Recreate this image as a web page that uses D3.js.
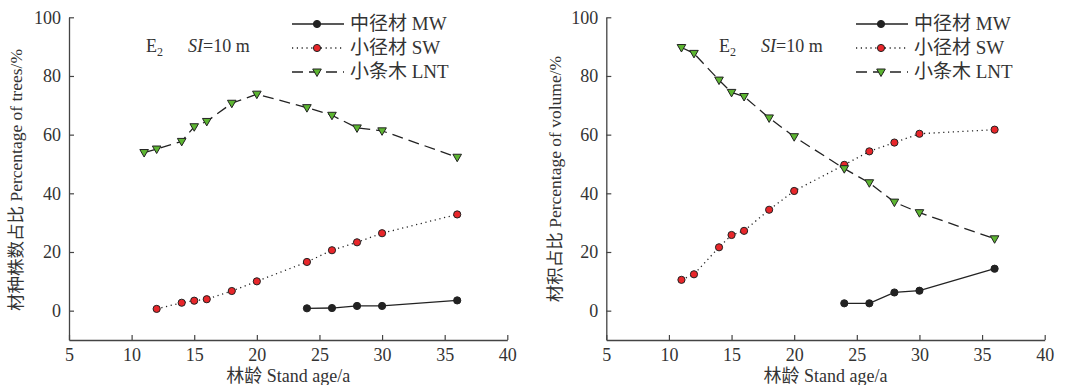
<!DOCTYPE html>
<html>
<head>
<meta charset="utf-8">
<script src="https://cdn.jsdelivr.net/npm/d3@7"></script>
<style>
  body { margin: 0; background: #fff; }
  text { font-family: "Liberation Serif", "Noto Sans CJK SC", serif; fill: #333; }
</style>
</head>
<body>
<div id="chart"></div>
<script>
// ages for each series
var agesAll = [11, 12, 14, 15, 16, 18, 20, 24, 26, 28, 30, 36];
var agesSW = [12, 14, 15, 16, 18, 20, 24, 26, 28, 30, 36];
var agesMW = [24, 26, 28, 30, 36];

// left panel: percentage of trees
var treesMW = [0.8, 0.9, 1.6, 1.6, 3.5];
var treesSW = [0.6, 2.7, 3.4, 3.9, 6.7, 10.0, 16.6, 20.6, 23.3, 26.4, 32.8];
var treesLNT = [53.9, 55.1, 57.7, 62.7, 64.5, 70.7, 73.8, 69.2, 66.6, 62.3, 61.3, 52.3];

// right panel: percentage of volume
var volMW = [2.5, 2.5, 6.2, 6.8, 14.3];
var volSW = [10.5, 12.4, 21.6, 25.8, 27.2, 34.4, 40.8, 49.7, 54.3, 57.3, 60.3, 61.7];
var volLNT = [89.7, 87.7, 78.6, 74.4, 73.0, 65.7, 59.3, 48.4, 43.6, 37.0, 33.4, 24.5];

var xTicks = [5, 10, 15, 20, 25, 30, 35, 40];
var yTicks = [0, 20, 40, 60, 80, 100];
var legendNames = ["中径材 MW", "小径材 SW", "小条木 LNT"];

var width = 1066, height = 385;
var svg = d3.select('#chart').append('svg')
    .attr('width', width)
    .attr('height', height);

function zip(xs, ys) {
    return xs.map(function(x, i) { return {x: x, y: ys[i]}; });
}

function panel(opt) {
    var g = svg.append('g');
    var x = d3.scaleLinear().domain([5, 40]).range([opt.left, opt.right]);
    var y = d3.scaleLinear().domain([-10, 100]).range([340, 17.3]);

    // axes with inward ticks
    var xAxis = g.append('g')
        .attr('transform', 'translate(0,340)')
        .call(d3.axisBottom(x).tickValues(xTicks).tickSizeInner(-5).tickSizeOuter(0).tickPadding(7));
    var yAxis = g.append('g')
        .attr('transform', 'translate(' + opt.left + ',0)')
        .call(d3.axisLeft(y).tickValues(yTicks).tickSizeInner(-5).tickSizeOuter(0).tickPadding(8));
    [xAxis, yAxis].forEach(function(a) {
        a.attr('font-family', null);
        a.select('.domain').attr('stroke', '#444').attr('stroke-width', 1.3);
        a.selectAll('.tick line').attr('stroke', '#444').attr('stroke-width', 1.2);
        a.selectAll('.tick text').style('font-size', '18px').attr('fill', '#333');
    });
    xAxis.selectAll('.tick text').attr('dy', '0.75em');

    g.append('text')
        .attr('x', (opt.left + opt.right) / 2)
        .attr('y', 382)
        .attr('text-anchor', 'middle')
        .style('font-size', '18px')
        .text('林龄 Stand age/a');

    g.append('text')
        .attr('transform', 'translate(' + opt.ylabX + ',' + opt.ylabY + ') rotate(-90)')
        .attr('text-anchor', 'middle')
        .style('font-size', '17.5px')
        .text(opt.ylabel);

    // E2 SI=10 m annotation
    var ann = g.append('text')
        .attr('x', opt.annX)
        .attr('y', 52)
        .style('font-size', '18px');
    ann.append('tspan').text('E');
    ann.append('tspan').attr('dy', 4).style('font-size', '12px').text('2');
    var ann2 = g.append('text')
        .attr('x', opt.annX + 42)
        .attr('y', 52)
        .style('font-size', '18px');
    ann2.append('tspan').style('font-style', 'italic').text('SI');
    ann2.append('tspan').text('=10 m');

    var line = d3.line().x(function(d) { return x(d.x); }).y(function(d) { return y(d.y); });

    var series = [
        {data: zip(agesMW, opt.mw), dash: null, marker: 'circle', fill: '#222'},
        {data: zip(opt.swAges, opt.sw), dash: '1.2,3.6', marker: 'circle', fill: '#e8262a'},
        {data: zip(agesAll, opt.lnt), dash: '11,6', marker: 'tri', fill: '#5cb531'}
    ];

    series.forEach(function(s) {
        g.append('path')
            .datum(s.data)
            .attr('d', line)
            .attr('fill', 'none')
            .attr('stroke', '#222')
            .attr('stroke-width', 1.3)
            .attr('stroke-dasharray', s.dash);
    });

    function drawMarker(sel, s, px, py) {
        if (s.marker === 'circle') {
            sel.append('circle')
                .attr('cx', px).attr('cy', py).attr('r', 3.6)
                .attr('fill', s.fill)
                .attr('stroke', '#222')
                .attr('stroke-width', 1);
        } else {
            sel.append('path')
                .attr('d', 'M' + (px - 4.3) + ',' + (py - 3) + 'L' + (px + 4.3) + ',' + (py - 3) + 'L' + px + ',' + (py + 4.5) + 'Z')
                .attr('fill', s.fill)
                .attr('stroke', '#222')
                .attr('stroke-width', 1);
        }
    }

    series.forEach(function(s) {
        s.data.forEach(function(d) { drawMarker(g, s, x(d.x), y(d.y)); });
    });

    // legend
    series.forEach(function(s, i) {
        var ly = 24 + i * 24;
        g.append('line')
            .attr('x1', opt.legX).attr('x2', opt.legX + 52)
            .attr('y1', ly).attr('y2', ly)
            .attr('stroke', '#222').attr('stroke-width', 1.3)
            .attr('stroke-dasharray', s.dash);
        drawMarker(g, s, opt.legX + 25, ly);
        g.append('text')
            .attr('x', opt.legX + 58)
            .attr('y', ly + 6)
            .style('font-size', '19px')
            .text(legendNames[i]);
    });
}

panel({
    left: 69, right: 507.3,
    mw: treesMW, sw: treesSW, swAges: agesSW, lnt: treesLNT,
    ylabel: '材种株数占比 Percentage of trees/%', ylabX: 22, ylabY: 180,
    annX: 146, legX: 292
});

panel({
    left: 606.3, right: 1044.7,
    mw: volMW, sw: volSW, swAges: agesAll, lnt: volLNT,
    ylabel: '材积占比 Percentage of volume/%', ylabX: 561, ylabY: 179,
    annX: 719, legX: 856
});
</script>
</body>
</html>
